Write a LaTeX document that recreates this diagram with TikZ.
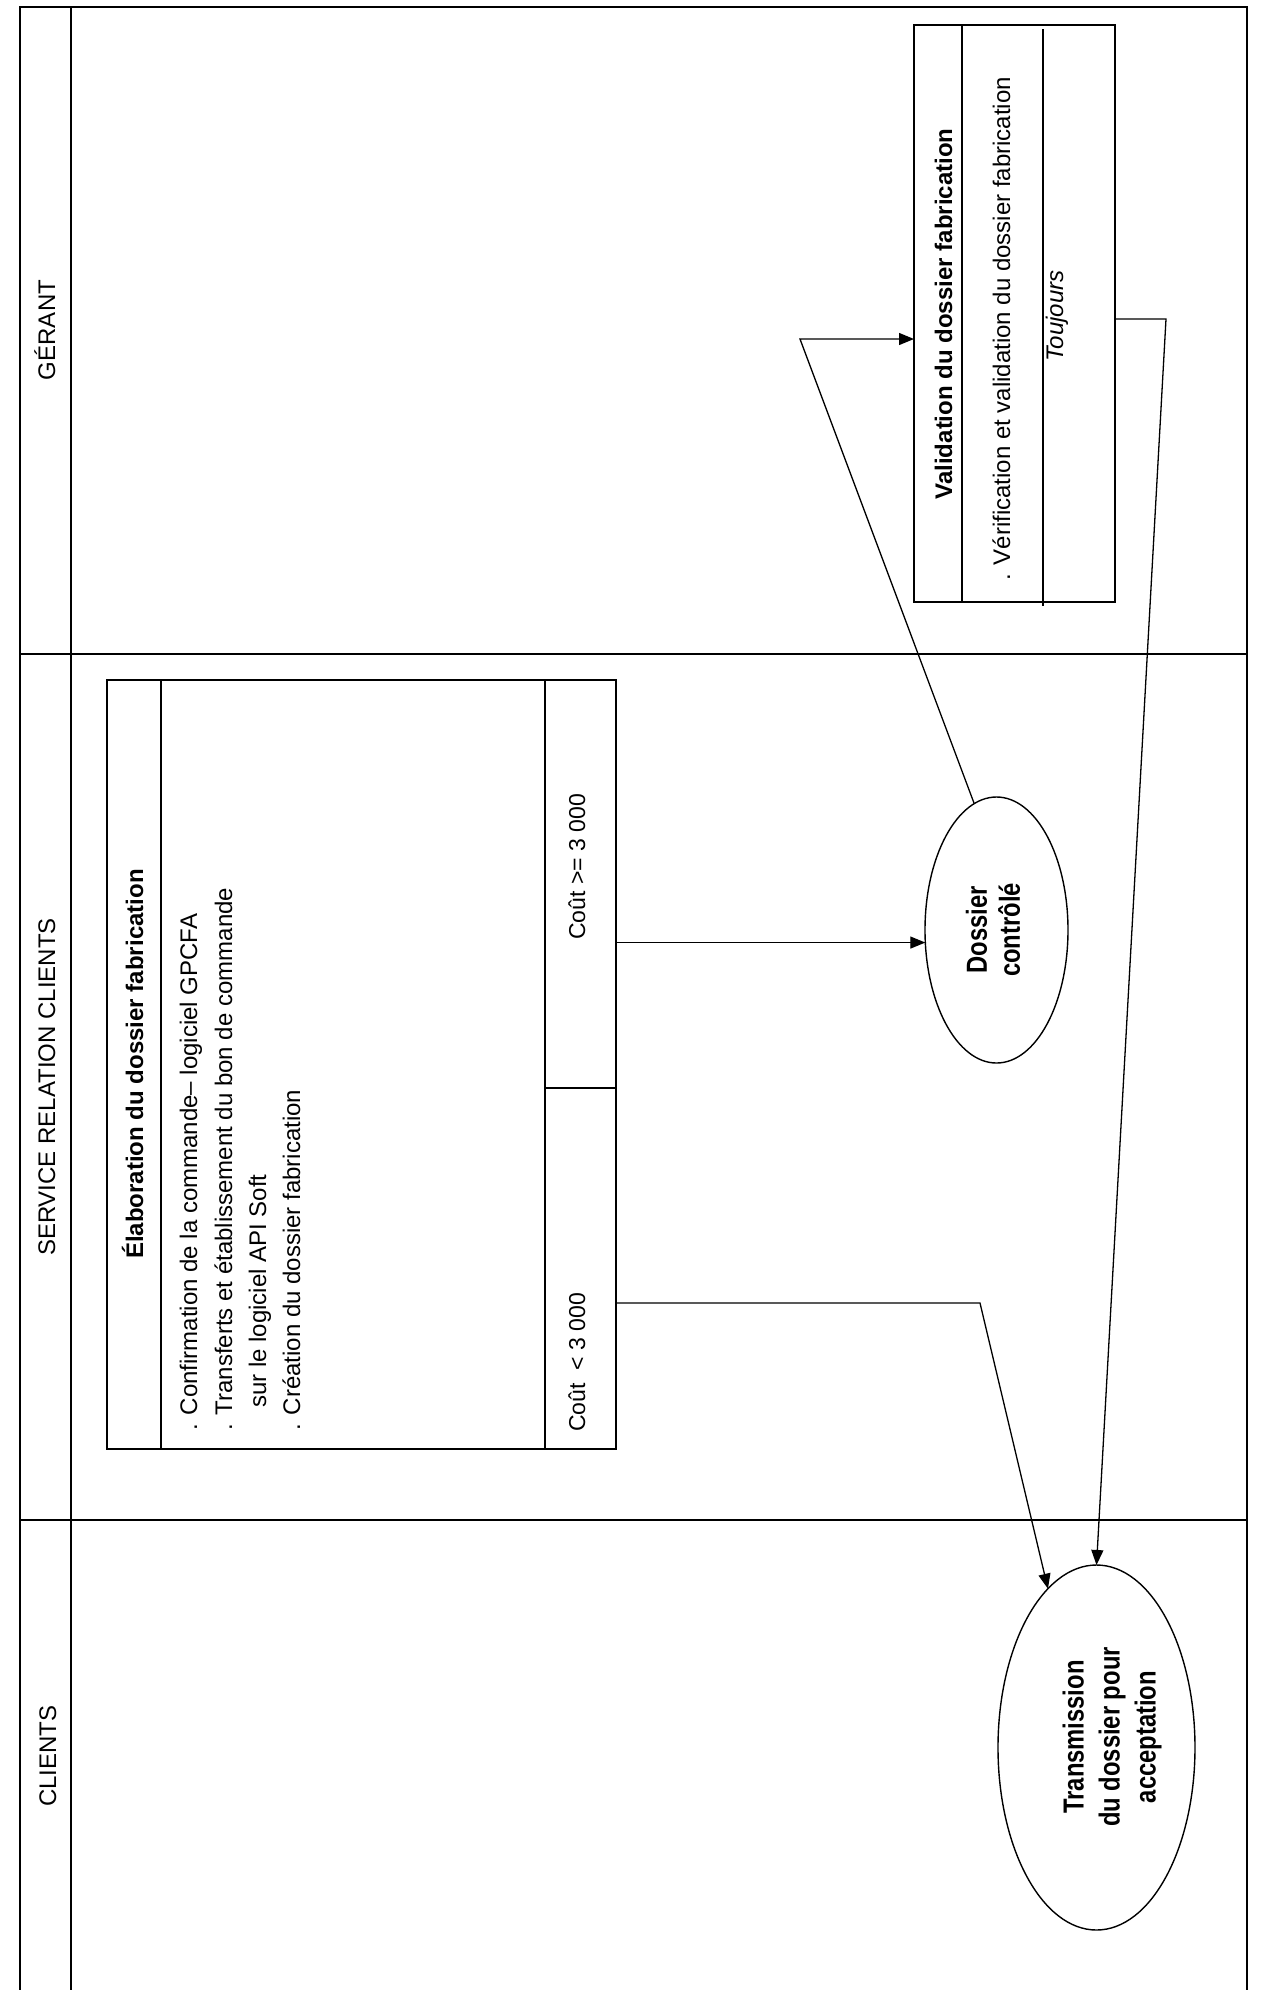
\documentclass[tikz,border=0pt]{standalone}
\usepackage{fontspec}
\setmainfont{Liberation Sans}
\newfontfamily\narrowfont{Liberation Sans}[FakeStretch=0.82]
\usetikzlibrary{arrows.meta,shapes.geometric}
\begin{document}
\begin{tikzpicture}[x=1pt,y=-1pt,
  frame/.style={line width=1.2pt},
  boxline/.style={line width=1.7pt},
  thinline/.style={line width=1.3pt},
  arr/.style={line width=1.3pt,-{Triangle[length=15pt,width=12pt]}},
  hdr/.style={rotate=90,anchor=base,inner sep=0pt,font=\fontsize{24}{28}\selectfont},
  ttl/.style={rotate=90,anchor=base,inner sep=0pt,font=\bfseries\fontsize{24}{28}\selectfont},
  bodyl/.style={rotate=90,anchor=base west,inner sep=0pt,font=\fontsize{24}{28}\selectfont},
  cost/.style={rotate=90,anchor=base west,inner sep=0pt,font=\fontsize{23}{27}\selectfont},
  etxt/.style={rotate=90,align=center,inner sep=0pt},
  boxnode/.style={draw,boxline,rectangle,anchor=north west,inner sep=0pt,outer sep=0pt},
  ellnode/.style={draw,ellipse,line width=1.4pt,inner sep=0pt,outer sep=0pt}
]
\useasboundingbox (0,0) rectangle (1263,1990);
\fill[white] (0,0) rectangle (1263,1990);

% frame and lanes
\draw[frame] (20,1990) -- (20,7) -- (1247,7) -- (1247,1990);
\draw[frame] (71,7) -- (71,1990);
\draw[frame] (20,654) -- (1247,654);
\draw[frame] (20,1520) -- (1247,1520);

% lane headers
\node[hdr] (hG) at (55,330) {GÉRANT};
\node[hdr] (hS) at (55,1087) {SERVICE RELATION CLIENTS};
\node[hdr] (hC) at (56,1756) {CLIENTS};

% Elaboration box
\node[boxnode,minimum width=509pt,minimum height=769pt] (elab) at (107,680) {};
\draw[boxline] (161,680) -- (161,1449);
\draw[boxline] (545,680) -- (545,1449);
\draw[boxline] (545,1088) -- (616,1088);
\node[ttl] (tE) at (143,1064) {Élaboration du dossier fabrication};
\node[bodyl] (l1) at (197,1431) {. Confirmation de la commande– logiciel GPCFA};
\node[bodyl] (l2) at (232,1431) {. Transferts et établissement du bon de commande};
\node[bodyl] (l3) at (266,1431) {\hspace*{23pt}sur le logiciel API Soft};
\node[bodyl] (l4) at (300,1431) {. Création du dossier fabrication};
\node[cost] (c1) at (585,940) {Coût >= 3 000};
\node[cost] (c2) at (585,1432) {Coût\ \ < 3 000};

% Validation box
\node[boxnode,minimum width=201pt,minimum height=577pt] (valid) at (914,25) {};
\draw[boxline] (962,25) -- (962,602);
\draw[thinline] (1043,29) -- (1043,606);
\node[ttl] (tV) at (952,314) {Validation du dossier fabrication};
\node[bodyl] (vb) at (1010,581) {. Vérification et validation du dossier fabrication};
\node[hdr,font=\itshape\fontsize{24}{28}\selectfont] (tj) at (1063,316) {Toujours};

% ellipses
\node[ellnode,minimum width=143pt,minimum height=266pt] (dossier) at (996.5,930) {};
\node[etxt,font=\narrowfont\bfseries\fontsize{29}{33}\selectfont] (td) at (993,930) {Dossier\\contrôlé};
\node[ellnode,minimum width=197pt,minimum height=365pt] (trans) at (1096.5,1747.5) {};
\node[etxt,font=\narrowfont\bfseries\fontsize{29}{36}\selectfont] (tt) at (1112,1737) {Transmission\\du dossier pour\\acceptation};

% connectors
\coordinate (k0) at (800,339);
\coordinate (k1) at (980,1303);
\coordinate (k2) at (1166,319);
\draw[arr] (elab.east |- dossier.190) -- (dossier.190);
\draw[arr] (dossier.100) -- (k0) -- (k0 -| valid.west);
\draw[arr] (k2 -| valid.east) -- (k2) -- (trans.90);
\draw[arr] (elab.east |- k1) -- (k1) -- (trans.107);
\end{tikzpicture}
\end{document}
